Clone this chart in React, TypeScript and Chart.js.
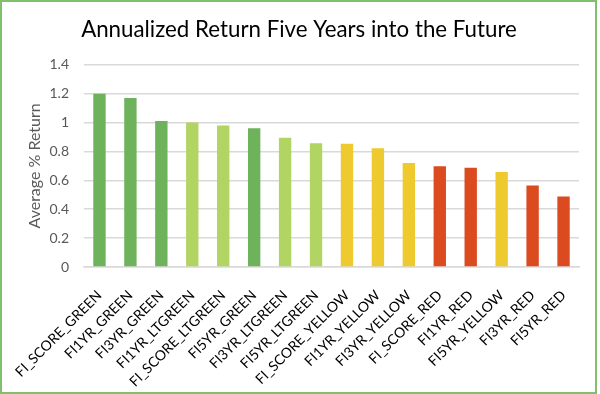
import React, { useEffect, useRef } from "react";
import { Chart, registerables } from "chart.js";

Chart.register(...registerables);

const titleText = "Annualized Return Five Years into the Future";
const yAxisTitle = "Average % Return";

const categories = [
  "FI_SCORE_GREEN",
  "FI1YR_GREEN",
  "FI3YR_GREEN",
  "FI1YR_LTGREEN",
  "FI_SCORE_LTGREEN",
  "FI5YR_GREEN",
  "FI3YR_LTGREEN",
  "FI5YR_LTGREEN",
  "FI_SCORE_YELLOW",
  "FI1YR_YELLOW",
  "FI3YR_YELLOW",
  "FI_SCORE_RED",
  "FI1YR_RED",
  "FI5YR_YELLOW",
  "FI3YR_RED",
  "FI5YR_RED",
];

const values = [1.2, 1.17, 1.01, 1.0, 0.98, 0.96, 0.895, 0.857, 0.853, 0.822, 0.72, 0.698, 0.687, 0.657, 0.565, 0.488];

const tiers = ["G", "G", "G", "LG", "LG", "G", "LG", "LG", "Y", "Y", "Y", "R", "R", "Y", "R", "R"];

const tierColors: Record<string, string> = {
  G: "#6eb25b",
  LG: "#b2d462",
  Y: "#eeca2f",
  R: "#dc4a20",
};

const yMin = 0;
const yMax = 1.4;
const yStep = 0.2;

const FONT = "Lato, 'Open Sans', sans-serif";

export default function App() {
  const ref = useRef<HTMLCanvasElement | null>(null);

  useEffect(() => {
    document.body.style.margin = "0";
    const canvas = ref.current;
    if (!canvas) return;
    const chart = new Chart(canvas, {
      type: "bar",
      data: {
        labels: categories,
        datasets: [
          {
            data: values,
            backgroundColor: tiers.map((t) => tierColors[t]),
            borderWidth: 0,
            categoryPercentage: 0.8,
            barPercentage: 0.5,
          },
        ],
      },
      options: {
        animation: false,
        responsive: false,
        devicePixelRatio: 1,
        layout: { padding: { left: 17, right: 16, top: 0, bottom: 0 } },
        plugins: {
          legend: { display: false },
          tooltip: { enabled: false },
          title: {
            display: true,
            text: titleText,
            color: "#000000",
            font: { family: FONT, size: 22.3, weight: "normal" },
            padding: { top: 14, bottom: 22 },
          },
        },
        scales: {
          x: {
            grid: { display: false, drawTicks: false },
            border: { display: true, color: "#d9d9d9", width: 1.5 },
            ticks: {
              color: "#000000",
              font: { family: FONT, size: 14 },
              maxRotation: 45,
              minRotation: 45,
              padding: 20,
              autoSkip: false,
            },
            afterFit: (scale: any) => {
              scale.height = 125;
              scale.paddingLeft = 0;
              scale.paddingRight = 0;
            },
          },
          y: {
            min: yMin,
            max: yMax,
            border: { display: false },
            grid: { color: "#d9d9d9", lineWidth: 1.5, drawTicks: false },
            ticks: {
              stepSize: yStep,
              color: "#595959",
              font: { family: FONT, size: 14 },
              padding: 15,
              callback: (v: any) => String(Math.round(Number(v) * 10) / 10),
            },
            title: {
              display: true,
              text: yAxisTitle,
              color: "#595959",
              font: { family: FONT, size: 16 },
              padding: { top: 6.4, bottom: 4 },
            },
            afterFit: (scale: any) => {
              scale.width = 65;
            },
          },
        },
      },
    });
    return () => chart.destroy();
  }, []);

  return (
    <div
      style={{
        position: "absolute",
        left: 0,
        top: 0,
        width: 597,
        height: 394,
        boxSizing: "border-box",
        border: "2px solid #80c06d",
        background: "#ffffff",
      }}
    >
      <canvas ref={ref} width={593} height={390} style={{ display: "block" }} />
    </div>
  );
}
